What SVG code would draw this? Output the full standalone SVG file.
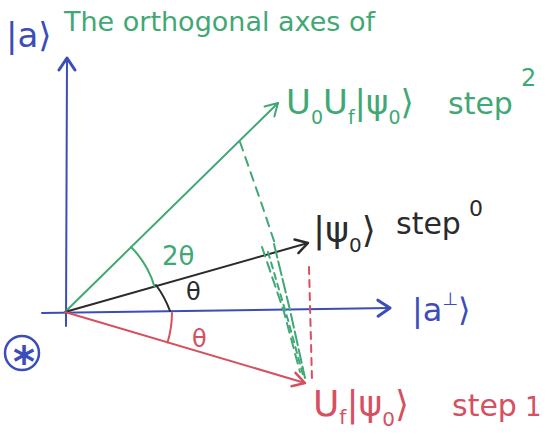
<svg xmlns="http://www.w3.org/2000/svg" width="546" height="434" viewBox="0 0 546 434">
<style>
  .t { font-family: "DejaVu Sans", "Liberation Sans", sans-serif; }
  .blue { fill: #3a4db8; }
  .green { fill: #3fa874; }
  .black { fill: #2b2b2b; }
  .red { fill: #d6505f; }
  .ln { fill: none; stroke-width: 2; stroke-linecap: round; stroke-linejoin: round; }
</style>
<defs>
  <marker id="aBlue" viewBox="0 0 20 20" refX="18" refY="10" markerWidth="20" markerHeight="20" markerUnits="userSpaceOnUse" orient="auto">
    <path d="M6,2 L18,10 L6,18" fill="none" stroke="#3a4db8" stroke-width="3" stroke-linecap="round" stroke-linejoin="round"/>
  </marker>
  <marker id="aGreen" viewBox="0 0 20 20" refX="18" refY="10" markerWidth="20" markerHeight="20" markerUnits="userSpaceOnUse" orient="auto">
    <path d="M6,3 L18,10 L6,17" fill="none" stroke="#3fa874" stroke-width="2" stroke-linecap="round" stroke-linejoin="round"/>
  </marker>
  <marker id="aBlack" viewBox="0 0 20 20" refX="18" refY="10" markerWidth="20" markerHeight="20" markerUnits="userSpaceOnUse" orient="auto">
    <path d="M6,3 L18,10 L6,17" fill="none" stroke="#2b2b2b" stroke-width="2.5" stroke-linecap="round" stroke-linejoin="round"/>
  </marker>
  <marker id="aRed" viewBox="0 0 20 20" refX="18" refY="10" markerWidth="20" markerHeight="20" markerUnits="userSpaceOnUse" orient="auto">
    <path d="M6,3 L18,10 L6,17" fill="none" stroke="#d6505f" stroke-width="2.5" stroke-linecap="round" stroke-linejoin="round"/>
  </marker>
</defs>
<rect width="546" height="434" fill="#ffffff"/>

<g id="title">
  <text class="t green" x="64" y="31" font-size="27">The orthogonal axes of</text>
</g>

<g id="connectors">
  <!-- axes -->
  <path class="ln" stroke="#3a4db8" stroke-width="3" d="M66,326 L67,58" marker-end="url(#aBlue)"/>
  <path class="ln" stroke="#3a4db8" d="M42,313 L390,308" marker-end="url(#aBlue)"/>
  <!-- vectors -->
  <path class="ln" stroke="#3fa874" stroke-width="1.6" d="M65,312 L278,103" marker-end="url(#aGreen)"/>
  <path class="ln" stroke="#2b2b2b" stroke-width="1.6" d="M65,312 L308,243" marker-end="url(#aBlack)"/>
  <path class="ln" stroke="#d6505f" stroke-width="1.6" d="M65,312 L305,383" marker-end="url(#aRed)"/>
  <!-- projection lines -->
  <path class="ln" stroke="#3fa874" stroke-width="1.5" stroke-dasharray="9 7" d="M240,142 L262,205 L275,244"/>
  <path class="ln" stroke="#3fa874" stroke-width="1.5" stroke-dasharray="14 4" d="M274,244 L290,310 L305,378"/>
  <path class="ln" stroke="#3fa874" stroke-width="1.2" stroke-dasharray="10 6" d="M262,247 L284,312 L300,372"/>
  <path class="ln" stroke="#3fa874" stroke-width="1.2" stroke-dasharray="6 5" d="M268,252 L288,320 L303,375"/>
  <path class="ln" stroke="#d6505f" stroke-width="2" stroke-dasharray="7 6" d="M309,267 L312,380"/>
  <!-- angle arcs -->
  <path class="ln" stroke="#3fa874" stroke-width="2.5" d="M131,247 A93,93 0 0,1 154.5,286.6"/>
  <path class="ln" stroke="#2b2b2b" stroke-width="2.5" d="M156,285 A105,105 0 0,1 170,311"/>
  <path class="ln" stroke="#d6505f" stroke-width="2" d="M172,313 A107,107 0 0,1 167.6,342.4"/>
</g>

<g id="axis-a">
  <text class="t blue" x="6" y="47" font-size="34">|a⟩</text>
</g>
<g id="axis-aperp">
  <text class="t blue" x="412" y="321" font-size="32">|a<tspan font-size="18" dy="-16">⊥</tspan><tspan dy="16">⟩</tspan></text>
</g>
<g id="star">
  <circle cx="22" cy="353" r="17" fill="none" stroke="#3a4db8" stroke-width="2.5"/>
  <text class="t blue" x="24" y="377" font-size="42" font-weight="bold" text-anchor="middle">*</text>
</g>

<g id="step2">
  <text class="t green" x="286" y="114" font-size="34">U<tspan font-size="19" dy="10">0</tspan><tspan dy="-10">U</tspan><tspan font-size="19" dy="10">f</tspan><tspan dy="-10">|ψ</tspan><tspan font-size="19" dy="10">0</tspan><tspan dy="-10">⟩</tspan><tspan x="448" font-size="30">step</tspan><tspan font-size="24" dx="8" dy="-28">2</tspan></text>
</g>
<g id="step0">
  <text class="t black" x="313" y="242" font-size="36">|ψ<tspan font-size="20" dy="10">0</tspan><tspan dy="-10">⟩</tspan><tspan x="396" y="234" font-size="30">step</tspan><tspan font-size="22" dx="8" dy="-18">0</tspan></text>
</g>
<g id="step1">
  <text class="t red" x="313" y="416" font-size="36">U<tspan font-size="20" dy="8">f</tspan><tspan dy="-8">|ψ</tspan><tspan font-size="20" dy="10">0</tspan><tspan dy="-10">⟩</tspan><tspan x="452" font-size="30">step</tspan><tspan font-size="26" dx="8">1</tspan></text>
</g>

<g id="angles">
  <text class="t green" x="162" y="265" font-size="26">2θ</text>
  <text class="t black" x="186" y="300" font-size="24">θ</text>
  <text class="t red" x="192" y="347" font-size="24">θ</text>
</g>
</svg>
